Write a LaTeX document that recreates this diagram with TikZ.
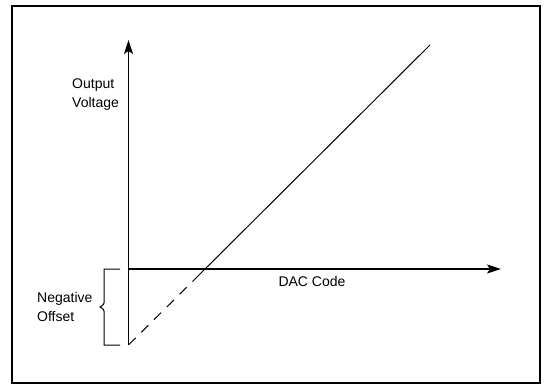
\documentclass[tikz,border=0pt]{standalone}
\usepackage{fontspec}
\setmainfont{Liberation Sans}
\usetikzlibrary{arrows.meta}
\begin{document}
\begin{tikzpicture}[x=1pt,y=-1pt,
  axis/.style={line width=1.5pt,-{Stealth[length=14pt,width=9pt,inset=3pt]}},
  lbl/.style={font=\fontsize{14}{18.5}\selectfont,inner sep=0pt,align=left},
  frame/.style={line width=2pt}]
\useasboundingbox (0,0) rectangle (544,385);
\draw[frame] (12,6) rectangle (540,383);
\coordinate (o) at (128.5,269);
\coordinate (ytop) at (128.5,40);
\coordinate (xend) at (501,269);
\coordinate (low) at (128.5,345);
\coordinate (hi) at (430,45);
\coordinate (mid) at (198,276);
\draw[axis] (low) -- (ytop);
\draw[axis] (o) -- (xend);
\draw[line width=1pt] (mid) -- (hi);
\draw[line width=1pt,dash pattern=on 10pt off 8pt] (low) -- (mid);
\draw[line width=1pt] (120,269) -- (104,269) -- (104,303) .. controls (104,305) and (100,307) .. (100,307)
  .. controls (100,307) and (104,309) .. (104,311) -- (104,345) -- (120,345);
\node[lbl,anchor=west] (ov) at (72,94.5) {Output\\Voltage};
\node[lbl] (dac) at (312,281) {DAC Code};
\node[lbl,anchor=west] (neg) at (37,307) {Negative\\Offset};
\end{tikzpicture}
\end{document}
